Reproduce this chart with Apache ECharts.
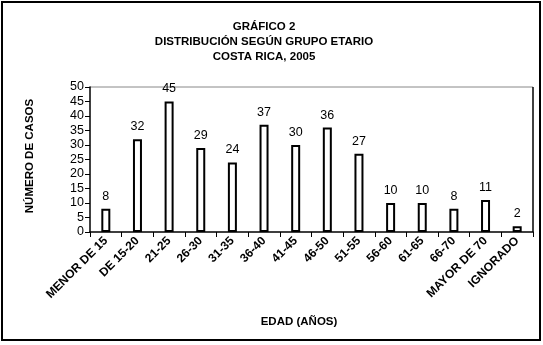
<!DOCTYPE html>
<html><head><meta charset="utf-8">
<script src="https://cdn.jsdelivr.net/npm/echarts@6/dist/echarts.min.js"></script>
<style>html,body{margin:0;padding:0;background:#fff}#c{width:543px;height:345px}</style>
</head><body><div id="c"></div>
<script>
const categories = ['MENOR DE 15','DE 15-20','21-25','26-30','31-35','36-40','41-45','46-50','51-55','56-60','61-65','66-70','MAYOR DE 70','IGNORADO'];
const casos = [8,32,45,29,24,37,30,36,27,10,10,8,11,2];
const yTicks = [0,5,10,15,20,25,30,35,40,45,50];

const chart = echarts.init(document.getElementById('c'), null, {renderer:'canvas'});
chart.setOption({
  animation:false,
  backgroundColor:'#fff',
  textStyle:{fontFamily:'Liberation Sans, Arial, sans-serif'},
  title:{
    text:'GRÁFICO 2\nDISTRIBUCIÓN SEGÚN GRUPO ETARIO\nCOSTA RICA, 2005',
    left:259, top:14, textAlign:'center',
    textStyle:{fontSize:11.5, fontWeight:'bold', color:'#000', lineHeight:15, fontFamily:'Liberation Sans, Arial, sans-serif'}
  },
  graphic:[
    {type:'rect', shape:{x:2,y:2,width:538,height:338}, style:{fill:null, stroke:'#000', lineWidth:2}},
    {type:'line', shape:{x1:90,y1:87,x2:533,y2:87}, style:{stroke:'#888', lineWidth:1}},
    {type:'line', shape:{x1:533,y1:87,x2:533,y2:232}, style:{stroke:'#000', lineWidth:1.5}},
    {type:'text', x:299, y:322, style:{text:'EDAD (AÑOS)', align:'center', verticalAlign:'middle', font:'bold 11.5px Liberation Sans, Arial, sans-serif', fill:'#000'}},
    {type:'text', rotation:Math.PI/2, x:30, y:156, style:{text:'NÚMERO DE CASOS', align:'center', verticalAlign:'middle', font:'bold 11.5px Liberation Sans, Arial, sans-serif', fill:'#000'}}
  ],
  grid:{left:90, right:10, top:87, bottom:113},
  xAxis:{
    type:'category', data:categories, boundaryGap:true,
    axisLine:{lineStyle:{color:'#000', width:1.5}},
    axisTick:{show:true, length:5, lineStyle:{color:'#000'}},
    axisLabel:{rotate:45, interval:0, fontSize:12, fontWeight:'bold', color:'#000', margin:7}
  },
  yAxis:{
    type:'value', min:yTicks[0], max:yTicks[yTicks.length-1], interval:5,
    axisLine:{show:true, lineStyle:{color:'#000', width:1.5}},
    axisTick:{show:true, length:5, lineStyle:{color:'#000'}},
    splitLine:{show:false},
    axisLabel:{fontSize:12.5, color:'#000', margin:6}
  },
  series:[{
    type:'bar', data:casos, barWidth:9,
    itemStyle:{color:'#fff', borderColor:'#000', borderWidth:2},
    label:{show:true, position:'top', fontSize:12.5, color:'#000', distance:6}
  }]
});
</script></body></html>
